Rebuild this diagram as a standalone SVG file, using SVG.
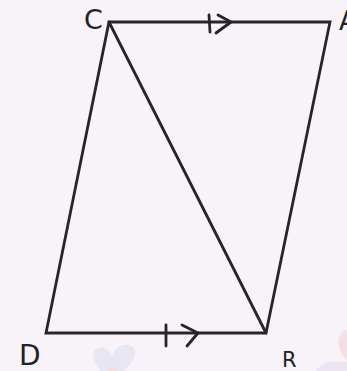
<svg xmlns="http://www.w3.org/2000/svg" width="347" height="371" viewBox="0 0 347 371">
<style>
.e{stroke:#262626;stroke-width:2.8;fill:none;stroke-linecap:round;stroke-linejoin:miter}
.m{stroke:#262626;stroke-width:2.8;fill:none;stroke-linecap:round;stroke-linejoin:round}
.l{font-family:"Comic Sans MS","DejaVu Sans","Liberation Sans",sans-serif;fill:#222;}
</style>
<rect width="347" height="371" fill="#f7f3f8"/>
<g id="decor" opacity="0.9">
<path d="M100 371 C92 360 90 350 100 348 C106 347 110 352 112 356 C114 348 124 342 132 346 C140 352 132 364 124 371 Z" fill="#e6e6f2"/>
<path d="M108 371 C110 366 116 366 118 371 Z" fill="#f5d9e0"/>
<path d="M347 330 C340 332 336 340 340 350 C342 356 346 360 347 360 Z" fill="#f7dbe2"/>
<path d="M316 371 C320 364 330 360 347 362 L347 371 Z" fill="#ebe2f3"/>
</g>
<g id="edges">
<path class="e" d="M109 22 L330 22 L266 333 L46 333 Z"/>
<path class="e" d="M109 22 L266 333"/>
</g>
<g id="marks">
<path class="m" d="M209 15 L210 32"/>
<path class="m" d="M218 15 L231 22 L216 33"/>
<path class="m" d="M166 325 L166 346"/>
<path class="m" d="M182 325 L198 333 L187 346"/>
</g>
<g id="C"><text class="l" x="84" y="29" font-size="27">C</text></g>
<g id="A"><text class="l" x="339" y="30" font-size="26">A</text></g>
<g id="D"><text class="l" x="19" y="365" font-size="28">D</text></g>
<g id="R"><text class="l" x="282" y="367" font-size="21">R</text></g>
</svg>
